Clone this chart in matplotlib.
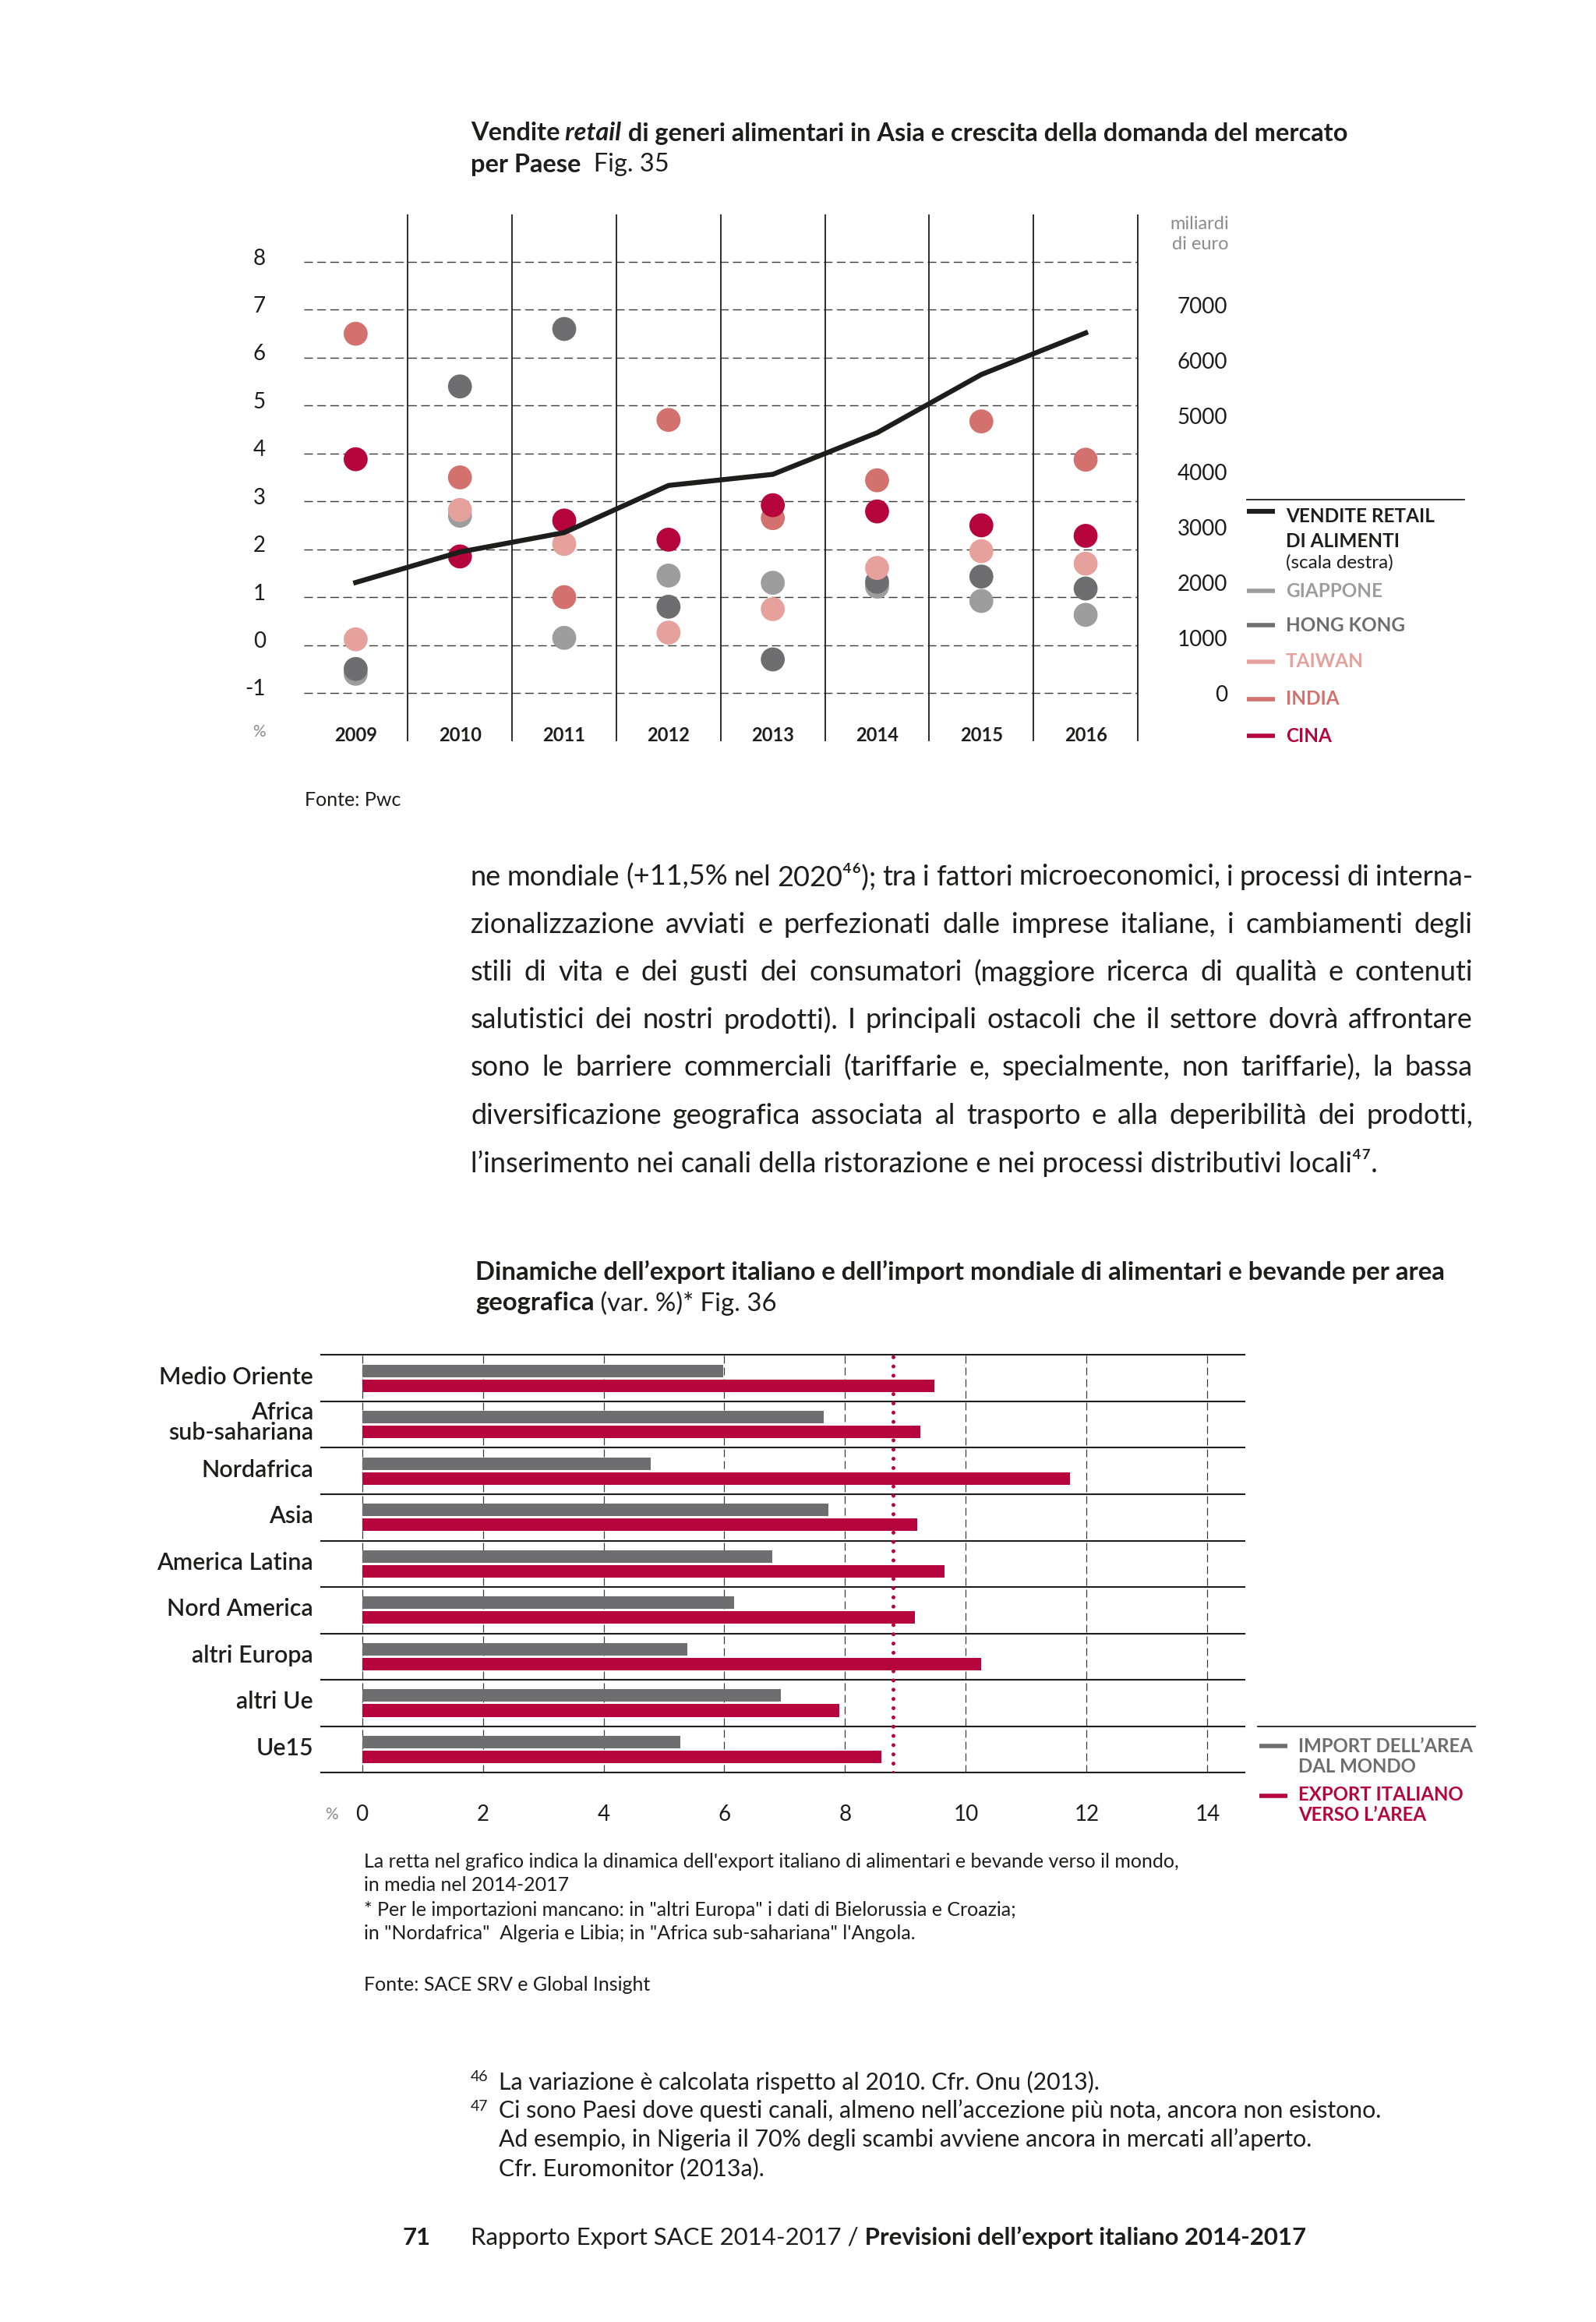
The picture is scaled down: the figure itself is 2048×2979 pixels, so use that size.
import numpy as np
import matplotlib
matplotlib.use('Agg')
import matplotlib.pyplot as plt
from matplotlib.transforms import ScaledTranslation

# Fig. 35 - growth of food retail demand by country (%), retail sales (bn euro)
years = [2009, 2010, 2011, 2012, 2013, 2014, 2015, 2016]
giappone = [-0.6, 2.7, 0.15, 1.45, 1.3, 1.22, 0.92, 0.63]
hong_kong = [-0.5, 5.4, 6.6, 0.8, -0.3, 1.32, 1.43, 1.18]
taiwan = [0.12, 2.82, 2.11, 0.26, 0.75, 1.61, 1.96, 1.7]
india = [6.5, 3.5, 1.0, 4.7, 2.65, 3.44, 4.67, 3.87]
cina = [3.88, 1.85, 2.6, 2.2, 2.92, 2.79, 2.5, 2.28]
retail = [2000, 2550, 2900, 3750, 3950, 4700, 5750, 6500]
countries = ['GIAPPONE', 'HONG KONG', 'TAIWAN', 'INDIA', 'CINA']

# Fig. 36 - Italian export vs world import of food and drinks by area (var. %)
areas = ['Medio Oriente', 'Africa\nsub-sahariana', 'Nordafrica', 'Asia', 'America Latina',
         'Nord America', 'altri Europa', 'altri Ue', 'Ue15']
import_area = [5.98, 7.64, 4.78, 7.72, 6.8, 6.16, 5.39, 6.93, 5.27]
export_it = [9.48, 9.24, 11.73, 9.19, 9.65, 9.16, 10.25, 7.91, 8.6]
export_world = 8.8

body = [
    'ne mondiale (+11,5% nel 2020\u2074\u2076); tra i fattori microeconomici, i processi di interna-',
    'zionalizzazione avviati e perfezionati dalle imprese italiane, i cambiamenti degli',
    'stili di vita e dei gusti dei consumatori (maggiore ricerca di qualità e contenuti',
    'salutistici dei nostri prodotti). I principali ostacoli che il settore dovrà affrontare',
    'sono le barriere commerciali (tariffarie e, specialmente, non tariffarie), la bassa',
    'diversificazione geografica associata al trasporto e alla deperibilità dei prodotti,',
    'l’inserimento nei canali della ristorazione e nei processi distributivi locali\u2074\u2077.',
]
notes = [
    "La retta nel grafico indica la dinamica dell'export italiano di alimentari e bevande verso il mondo,",
    'in media nel 2014-2017',
    '* Per le importazioni mancano: in "altri Europa" i dati di Bielorussia e Croazia;',
    'in "Nordafrica"  Algeria e Libia; in "Africa sub-sahariana" l\'Angola.',
]
footnotes = [
    ('46', ['La variazione è calcolata rispetto al 2010. Cfr. Onu (2013).']),
    ('47', ['Ci sono Paesi dove questi canali, almeno nell’accezione più nota, ancora non esistono.',
            'Ad esempio, in Nigeria il 70% degli scambi avviene ancora in mercati all’aperto.',
            'Cfr. Euromonitor (2013a).']),
]

W, H = 2048, 2979
INK = '#1d1d1b'
RED = '#b5053c'
ROSE = '#d2716d'
PINK = '#e6a19d'
DGRAY = '#6e6e70'
LGRAY = '#9d9d9e'
MUTED = '#8c8c8c'
plt.rcParams['font.family'] = ['Lato', 'DejaVu Sans']
plt.rcParams['axes.unicode_minus'] = False

fig = plt.figure(figsize=(W / 100, H / 100), dpi=100)
fig.patch.set_facecolor('white')
renderer = fig.canvas.get_renderer()

# page axes in pixel units (y down) for all the free text and legends
page = fig.add_axes([0, 0, 1, 1])
page.set_xlim(0, W)
page.set_ylim(H, 0)
page.axis('off')


def put(x, y, s, size, weight='normal', color=INK, style='normal', ha='left', va='center'):
    return page.text(x, y, s, fontsize=size, fontweight=weight, fontstyle=style,
                     color=color, ha=ha, va=va)


def width(t):
    return t.get_window_extent(renderer).width


def runs(x, y, parts, size, color=INK):
    out = []
    for s, weight, style in parts:
        t = put(x, y, s, size, weight, color, style)
        x += width(t)
        out.append(t)
    return out


def fit_runs(parts, target):
    ts = runs(0, 0, parts, 20)
    w = sum(width(t) for t in ts)
    for t in ts:
        t.remove()
    return 20 * target / w


def fit(s, target, weight='normal'):
    return fit_runs([(s, weight, 'normal')], target)


def justify(x0, x1, y, line, size, weight='normal'):
    ts = [put(x0, y, w, size, weight) for w in line.split(' ')]
    ws = [width(t) for t in ts]
    gap = (x1 - x0 - sum(ws)) / (len(ts) - 1)
    x = x0
    for t, w in zip(ts, ws):
        t.set_x(x)
        x += w + gap


# ---------------- Fig. 35 title ----------------
t1 = [('Vendite', 'bold', 'normal'), (' retail', 'bold', 'italic'),
      (' di generi alimentari in Asia e crescita della domanda del mercato', 'bold', 'normal')]
ts1 = fit_runs(t1, 1127)
runs(604, 171, t1, ts1)
runs(604, 211, [('per Paese', 'bold', 'normal'), ('  Fig. 35', 'normal', 'normal')], ts1)

# ---------------- Fig. 35 chart ----------------
L, R, T, B = 389.5, 1460, 275.5, 950
ylo, yhi = -1.993, 8.985
ax = fig.add_axes([L / W, 1 - B / H, (R - L) / W, (B - T) / H])
ax.set_facecolor('none')
x = np.arange(len(years))
ax.set_xlim(-0.5, len(years) - 0.5)
ax.set_ylim(ylo, yhi)
for s in ax.spines.values():
    s.set_visible(False)
ax.set_xticks([])
ax.set_yticks(range(-1, 9))
ax.tick_params(axis='y', length=0, pad=35, labelsize=20, labelcolor=INK)
ax.yaxis.grid(True, color='#3c3c3b', lw=1.0, linestyle=(0, (8, 4)))
ax.set_axisbelow(True)
shift = ScaledTranslation(0, 0.07, fig.dpi_scale_trans)
for lab in ax.get_yticklabels():
    lab.set_transform(lab.get_transform() + shift)

for k in x:
    ax.axvline(k + 0.5, color=INK, lw=1.3, clip_on=False, zorder=2)

for vals, c in zip([giappone, hong_kong, taiwan, india, cina], [LGRAY, DGRAY, PINK, ROSE, RED]):
    ax.scatter(x, vals, s=490, color=c, edgecolors='none', zorder=3)

for k, yr in zip(x, years):
    ax.text(k, 0.009, str(yr), transform=ax.get_xaxis_transform(), ha='center', va='center',
            fontsize=17, fontweight='bold', color=INK)

k_right = 1000 / 1.158
ax2 = ax.twinx()
ax2.set_ylim((ylo + 1.01) * k_right, (yhi + 1.01) * k_right)
ax2.set_yticks(range(0, 8000, 1000))
ax2.tick_params(axis='y', length=0, pad=83, labelsize=20, labelcolor=INK)
plt.setp(ax2.get_yticklabels(), ha='right')
for s in ax2.spines.values():
    s.set_visible(False)
ax2.plot(x, retail, color=INK, lw=4.6, zorder=4)

put(332, 939, '%', 15, 'normal', MUTED, ha='center')
msz = fit('miliardi', 76)
put(1577, 287, 'miliardi', msz, 'normal', MUTED, ha='right')
put(1577, 313.5, 'di euro', msz, 'normal', MUTED, ha='right')

# legend (right)
lsz = fit('VENDITE RETAIL', 190, 'bold')
page.plot([1600, 1879], [641, 641], color=INK, lw=1.3)
page.plot([1600, 1636], [655.5, 655.5], color=INK, lw=4.5, solid_capstyle='butt')
put(1650, 663, 'VENDITE RETAIL', lsz, 'bold')
put(1650, 695, 'DI ALIMENTI', lsz, 'bold')
put(1650, 722, '(scala destra)', lsz, 'normal')
for name, c, yy in zip(countries, [LGRAY, DGRAY, PINK, ROSE, RED], [758, 802, 849, 897, 944]):
    page.plot([1600, 1636], [yy, yy], color=c, lw=4, solid_capstyle='butt')
    put(1650, yy, name, lsz, 'bold', c)

nsz = fit(notes[0], 1053)
put(391, 1026, 'Fonte: Pwc', nsz)

# ---------------- body text ----------------
bsz = fit(body[-1], 1172)
for i, line in enumerate(body):
    yy = 1125 + i * 61.2
    if i < len(body) - 1:
        justify(604, 1890, yy, line, bsz)
    else:
        put(604, yy, line, bsz)

# ---------------- Fig. 36 title ----------------
t2 = 'Dinamiche dell’export italiano e dell’import mondiale di alimentari e bevande per area'
ts2 = fit(t2, 1246, 'bold')
put(610, 1632, t2, ts2, 'bold')
runs(610, 1672, [('geografica', 'bold', 'normal'), (' (var. %)* Fig. 36', 'normal', 'normal')], ts2)

# ---------------- Fig. 36 chart ----------------
L3, R3, T3, B3 = 411.8, 1597.4, 1738.4, 2274.3
ax3 = fig.add_axes([L3 / W, 1 - B3 / H, (R3 - L3) / W, (B3 - T3) / H])
ax3.set_facecolor('none')
idx = np.arange(len(areas))
ax3.set_xlim(-0.681, 14.62)
ax3.set_ylim(len(areas), 0)
for s in ax3.spines.values():
    s.set_visible(False)
ax3.barh(idx + 0.34, import_area, height=0.27, color=DGRAY, zorder=3)
ax3.barh(idx + 0.66, export_it, height=0.27, color=RED, zorder=3)
for k in range(len(areas) + 1):
    ax3.axhline(k, color=INK, lw=1.5, zorder=2, clip_on=False)
ax3.set_xticks(range(0, 15, 2))
ax3.xaxis.grid(True, color='#3c3c3b', lw=0.9, linestyle=(0, (8, 4)))
ax3.set_axisbelow(True)
ax3.axvline(export_world, color=RED, lw=3.6, linestyle=(0, (0.01, 2.36)),
            dash_capstyle='round', zorder=4)
ax3.set_yticks(idx + 0.5)
ax3.set_yticklabels(areas)
csz = fit('America Latina', 200, 'semibold')
ax3.tick_params(length=0)
ax3.tick_params(axis='y', pad=7, labelsize=csz, labelcolor=INK)
ax3.tick_params(axis='x', pad=29, labelsize=20, labelcolor=INK)
plt.setp(ax3.get_yticklabels(), fontweight='semibold', linespacing=0.9)
up = ScaledTranslation(0, 0.04, fig.dpi_scale_trans)
for lab in ax3.get_yticklabels():
    lab.set_transform(lab.get_transform() + up)
put(425, 2328, '%', 15, 'normal', MUTED, ha='center')

# legend (bottom right)
gsz = fit('IMPORT DELL’AREA', 224, 'bold')
page.plot([1614, 1893], [2214.7, 2214.7], color=INK, lw=1.3)
page.plot([1616, 1652], [2240, 2240], color=DGRAY, lw=4, solid_capstyle='butt')
put(1666, 2240, 'IMPORT DELL’AREA', gsz, 'bold', DGRAY)
put(1666, 2266.5, 'DAL MONDO', gsz, 'bold', DGRAY)
page.plot([1616, 1652], [2303.7, 2303.7], color=RED, lw=4, solid_capstyle='butt')
put(1666, 2302, 'EXPORT ITALIANO', gsz, 'bold', RED)
put(1666, 2328, 'VERSO L’AREA', gsz, 'bold', RED)

# notes under the chart
for i, line in enumerate(notes):
    put(467, 2388 + i * 31, line, nsz)
put(467, 2546, 'Fonte: SACE SRV e Global Insight', nsz)

# ---------------- footnotes and footer ----------------
fsz = fit(footnotes[1][1][0], 1136)
yy = 2671
for num, lines in footnotes:
    put(604, yy - 6, num, fsz * 0.65)
    for line in lines:
        put(640, yy, line, fsz)
        yy += 37

foot = [('Rapporto Export SACE 2014-2017 /', 'normal', 'normal'),
        (' Previsioni dell’export italiano 2014-2017', 'bold', 'normal')]
ftsz = fit_runs(foot, 1074)
put(517, 2871, '71', ftsz, 'bold')
runs(604, 2871, foot, ftsz)

fig.savefig('out.png', dpi=100, facecolor='white')
